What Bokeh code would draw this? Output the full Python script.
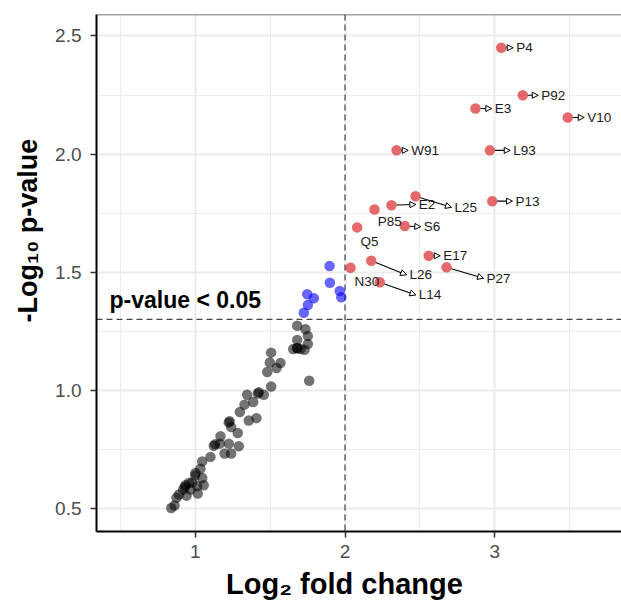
import math
from bokeh.plotting import figure
from bokeh.models import (ColumnDataSource, FixedTicker, Span, Label, Arrow,
                          NormalHead, Range1d, PrintfTickFormatter, Title)
from bokeh.embed import file_html
from bokeh.resources import INLINE
from bokeh.core.properties import value

# ---------------- data ----------------
gray_x = [1.681, 1.736, 1.752, 1.681, 1.752, 1.654, 1.681, 1.703, 1.730, 1.507,
          1.498, 1.569, 1.543, 1.481, 1.761, 1.507,
          1.347, 1.425, 1.458, 1.418, 1.387, 1.329, 1.298, 1.358, 1.409, 1.224,
          1.240, 1.284, 1.169, 1.164, 1.124, 1.224, 1.291,
          1.196, 1.240, 1.102, 1.047, 1.035, 1.002, 1.047, 0.980, 0.958, 0.935,
          1.013, 1.057, 0.969, 1.017, 0.920, 0.891, 0.875, 0.942, 0.862, 0.840,
          1.230, 1.133, 1.000, 0.930, 1.680]
gray_y = [1.274, 1.259, 1.231, 1.214, 1.197, 1.175, 1.179, 1.175, 1.172, 1.160,
          1.118, 1.116, 1.095, 1.078, 1.041, 1.017,
          0.982, 0.992, 0.982, 0.987, 0.951, 0.940, 0.909, 0.873, 0.883, 0.865,
          0.845, 0.820, 0.806, 0.775, 0.766, 0.775, 0.764,
          0.733, 0.733, 0.719, 0.700, 0.669, 0.651, 0.630, 0.611, 0.609, 0.599,
          0.595, 0.599, 0.581, 0.564, 0.581, 0.560, 0.546, 0.555, 0.513, 0.503,
          0.870, 0.772, 0.640, 0.592, 1.180]

blue_x = [1.897, 1.899, 1.965, 1.975, 1.748, 1.792, 1.752, 1.725]
blue_y = [1.527, 1.456, 1.421, 1.394, 1.407, 1.390, 1.362, 1.329]

red_names = ["P4", "P92", "E3", "V10", "W91", "L93", "E2", "L25", "P13", "P85",
             "S6", "Q5", "E17", "L26", "N30", "L14", "P27"]
red_x = [3.043, 3.187, 2.871, 3.487, 2.344, 2.967, 2.310, 2.471, 2.983, 2.197,
         2.399, 2.081, 2.559, 2.175, 2.037, 2.232, 2.678]
red_y = [2.450, 2.249, 2.193, 2.155, 2.016, 2.016, 1.784, 1.822, 1.801, 1.766,
         1.696, 1.690, 1.570, 1.549, 1.519, 1.458, 1.521]

# repelled label positions (left edge, middle)
lab_x = [3.143, 3.310, 3.000, 3.617, 2.442, 3.123, 2.493, 2.731, 3.138, 2.219,
         2.526, 2.103, 2.656, 2.431, 2.063, 2.493, 2.945]
lab_y = [2.450, 2.249, 2.193, 2.155, 2.016, 2.016, 1.787, 1.775, 1.801, 1.717,
         1.693, 1.632, 1.570, 1.489, 1.463, 1.404, 1.475]
lab_arrow = [True, True, True, True, True, True, True, True, True, False,
             True, False, True, True, False, True, True]

x_ticks = [1, 2, 3]
x_minor = [0.5, 1.5, 2.5, 3.5]
y_ticks = [0.5, 1.0, 1.5, 2.0, 2.5]
y_minor = [0.75, 1.25, 1.75, 2.25]
fc_cut = 2.0
p_cut = -math.log10(0.05)

x_title = "Log\u2082 fold change"
y_title = "-Log\u2081\u2080 p-value"
cut_caption = "p-value < 0.05"

# ---------------- layout ----------------
W, H = 621, 604
FL, FT, FBM = 96, 14, 72
FR = W
FBOT = H - FBM
X0, X1 = 0.3411, 3.8458
Y0, Y1 = 0.4033, 2.5908
sx = (FR - FL) / (X1 - X0)
sy = (FBOT - FT) / (Y1 - Y0)


def px2x(px):  # canvas pixel -> data x
    return X0 + (px - FL) / sx


def px2y(py):  # canvas pixel -> data y
    return Y1 - (py - FT) / sy


p = figure(width=W, height=H, x_range=Range1d(X0, X1), y_range=Range1d(Y0, Y1),
           output_backend="svg", toolbar_location=None,
           min_border_left=FL, min_border_right=0, min_border_top=FT,
           min_border_bottom=FBM)
p.outline_line_color = None
p.background_fill_color = "white"

p.xaxis.ticker = FixedTicker(ticks=x_ticks, minor_ticks=x_minor)
p.yaxis.ticker = FixedTicker(ticks=y_ticks, minor_ticks=y_minor)
p.yaxis.formatter = PrintfTickFormatter(format="%.1f")
p.xgrid.ticker = p.xaxis[0].ticker
p.ygrid.ticker = p.yaxis[0].ticker
for g in (p.xgrid, p.ygrid):
    g.grid_line_color = "#ebebeb"
    g.grid_line_width = 2
    g.minor_grid_line_color = "#ededed"
    g.minor_grid_line_width = 1

for ax in (p.xaxis, p.yaxis):
    ax.axis_line_color = "black"
    ax.axis_line_width = 2
    ax.major_tick_line_color = "#333333"
    ax.major_tick_line_width = 1.5
    ax.major_tick_out = 6
    ax.major_tick_in = 0
    ax.minor_tick_line_color = None
    ax.major_label_text_font = "Liberation Sans"
    ax.major_label_text_font_size = "19px"
    ax.major_label_text_color = "#4d4d4d"
    ax.axis_label = None
p.xaxis.major_label_standoff = 7
p.yaxis.major_label_standoff = 9

# axis titles as side-panel titles
p.add_layout(Title(text=y_title, align="left", offset=532 - 323,
                   text_font="Liberation Sans", text_font_size="27px",
                   text_font_style="bold", text_color="black", standoff=19),
             "left")
p.add_layout(Title(text=x_title, align="left", offset=225.5 - FL,
                   text_font="Liberation Sans", text_font_size="29px",
                   text_font_style="bold", text_color="black", standoff=10,
                   text_line_height=0.85),
             "below")

# top border
p.add_layout(Span(location=Y1, dimension="width", line_color="#4d4d4d",
                  line_width=1.5))
# threshold lines
p.add_layout(Span(location=fc_cut, dimension="height", line_color="#444444",
                  line_width=1.2, line_dash="6 4", level="underlay"))
p.add_layout(Span(location=p_cut, dimension="width", line_color="#444444",
                  line_width=1.2, line_dash="6 4", level="underlay"))

# points
p.scatter(gray_x, gray_y, size=10.5, fill_color="black", fill_alpha=0.55,
          line_color=None)
p.scatter(blue_x, blue_y, size=10.5, fill_color="blue", fill_alpha=0.6,
          line_color=None)
p.scatter(red_x, red_y, size=10.5, fill_color="#d7191c", fill_alpha=0.65,
          line_color=None)

# arrows from points to their labels
xs, ys, xe, ye = [], [], [], []
for px_, py_, tx_, ty_, a in zip(red_x, red_y, lab_x, lab_y, lab_arrow):
    if not a:
        continue
    tx = tx_ - 3 / sx
    ty = ty_
    dx = (tx - px_) * sx
    dy = (ty - py_) * sy
    L = math.hypot(dx, dy)
    xs.append(px_ + dx / L * 5 / sx)
    ys.append(py_ + dy / L * 5 / sy)
    xe.append(tx)
    ye.append(ty)
asrc = ColumnDataSource(dict(xs=xs, ys=ys, xe=xe, ye=ye))
p.add_layout(Arrow(x_start="xs", y_start="ys", x_end="xe", y_end="ye",
                   source=asrc, line_color="black", line_width=1.1,
                   end=NormalHead(size=6, fill_color="white",
                                  line_color="black", line_width=1)))

p.text(x=lab_x, y=lab_y, text=red_names, text_font=value("Liberation Sans"),
       text_font_size="13.5px", text_align="left", text_baseline="middle",
       text_color="#1a1a1a")

# threshold caption
p.add_layout(Label(x=px2x(109), y=px2y(300), text=cut_caption,
                   text_font="Liberation Sans", text_font_size="23px",
                   text_font_style="bold", text_baseline="alphabetic",
                   text_color="black"))

open("out.html", "w").write(file_html(p, INLINE))
